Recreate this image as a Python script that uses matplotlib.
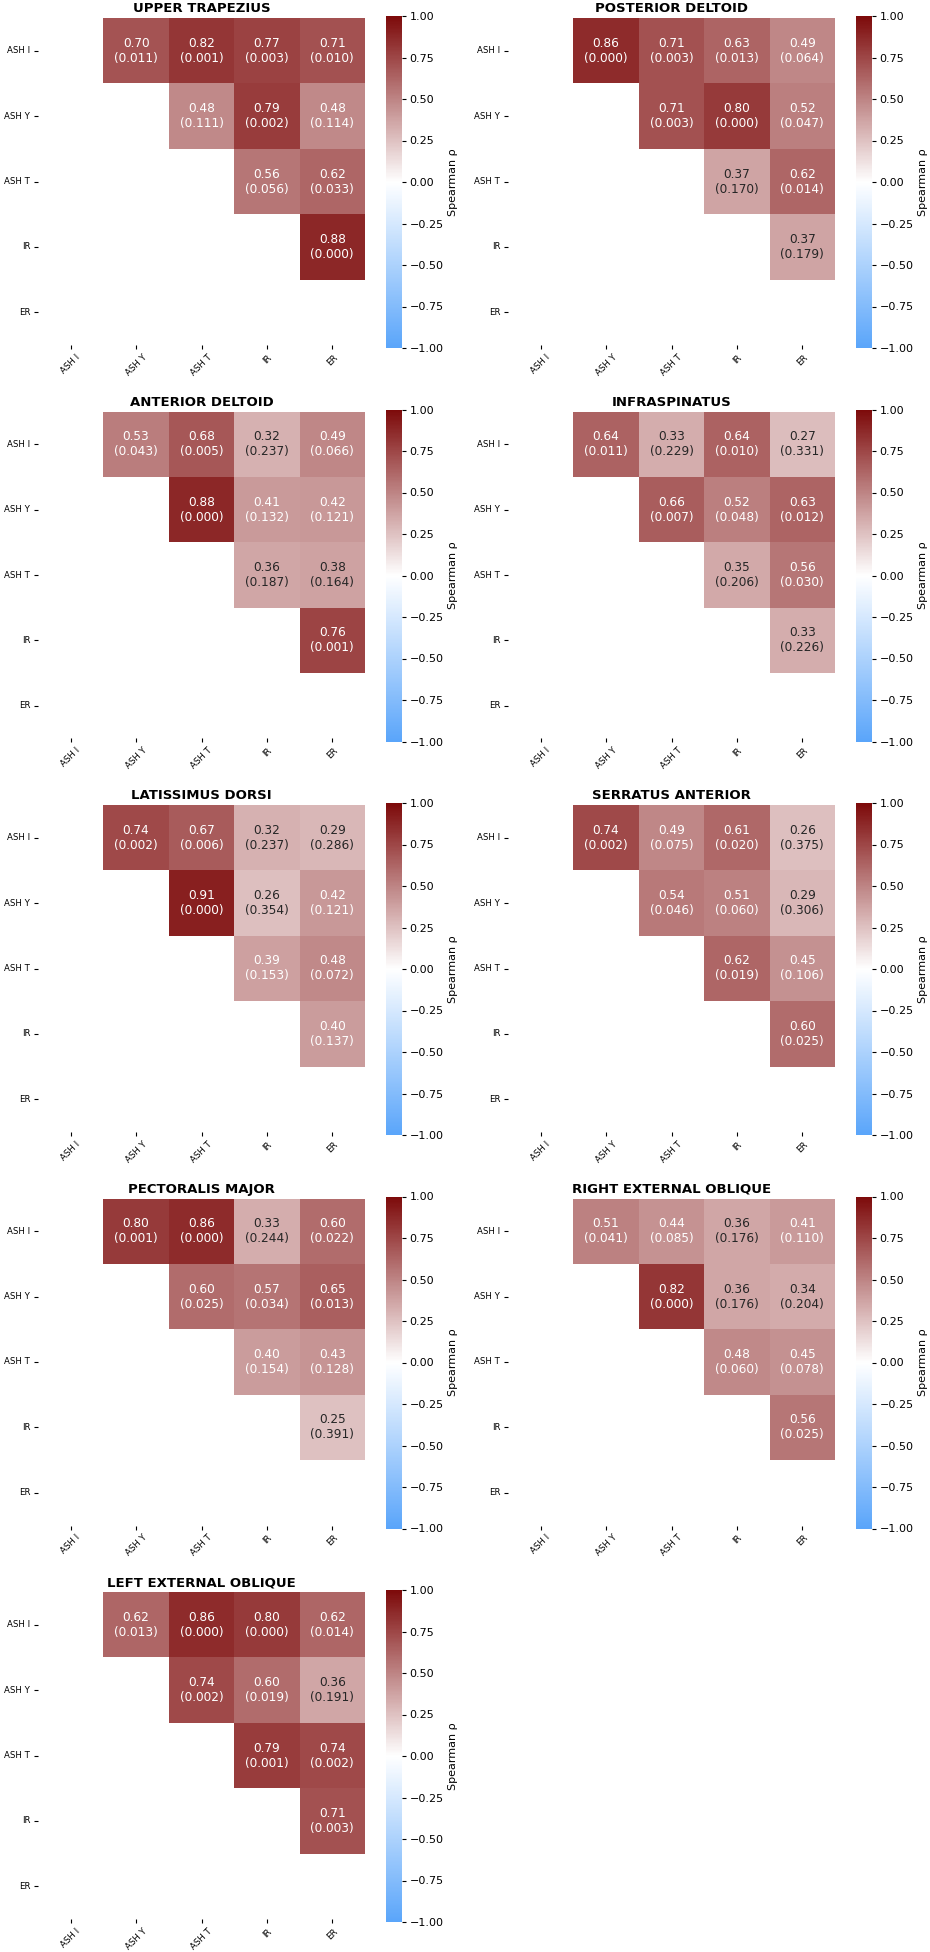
import numpy as np
import matplotlib
matplotlib.use("Agg")
import matplotlib.pyplot as plt
import seaborn as sns
from matplotlib.colors import LinearSegmentedColormap

# ------------------------------
# data (upper triangle, row by row)
# pairs: (I,Y) (I,T) (I,IR) (I,ER) (Y,T) (Y,IR) (Y,ER) (T,IR) (T,ER) (IR,ER)
# ------------------------------
labels = ["ASH I", "ASH Y", "ASH T", "IR", "ER"]

muscles = ["UPPER TRAPEZIUS", "POSTERIOR DELTOID", "ANTERIOR DELTOID",
           "INFRASPINATUS", "LATISSIMUS DORSI", "SERRATUS ANTERIOR",
           "PECTORALIS MAJOR", "RIGHT EXTERNAL OBLIQUE", "LEFT EXTERNAL OBLIQUE"]

rho_upper_trap = [0.70, 0.82, 0.77, 0.71, 0.48, 0.79, 0.48, 0.56, 0.62, 0.88]
p_upper_trap   = [0.011, 0.001, 0.003, 0.010, 0.111, 0.002, 0.114, 0.056, 0.033, 0.000]

rho_post_delt = [0.86, 0.71, 0.63, 0.49, 0.71, 0.80, 0.52, 0.37, 0.62, 0.37]
p_post_delt   = [0.000, 0.003, 0.013, 0.064, 0.003, 0.000, 0.047, 0.170, 0.014, 0.179]

rho_ant_delt = [0.53, 0.68, 0.32, 0.49, 0.88, 0.41, 0.42, 0.36, 0.38, 0.76]
p_ant_delt   = [0.043, 0.005, 0.237, 0.066, 0.000, 0.132, 0.121, 0.187, 0.164, 0.001]

rho_infra = [0.64, 0.33, 0.64, 0.27, 0.66, 0.52, 0.63, 0.35, 0.56, 0.33]
p_infra   = [0.011, 0.229, 0.010, 0.331, 0.007, 0.048, 0.012, 0.206, 0.030, 0.226]

rho_lat = [0.74, 0.67, 0.32, 0.29, 0.91, 0.26, 0.42, 0.39, 0.48, 0.40]
p_lat   = [0.002, 0.006, 0.237, 0.286, 0.000, 0.354, 0.121, 0.153, 0.072, 0.137]

rho_serr = [0.74, 0.49, 0.61, 0.26, 0.54, 0.51, 0.29, 0.62, 0.45, 0.60]
p_serr   = [0.002, 0.075, 0.020, 0.375, 0.046, 0.060, 0.306, 0.019, 0.106, 0.025]

rho_pec = [0.80, 0.86, 0.33, 0.60, 0.60, 0.57, 0.65, 0.40, 0.43, 0.25]
p_pec   = [0.001, 0.000, 0.244, 0.022, 0.025, 0.034, 0.013, 0.154, 0.128, 0.391]

rho_r_obl = [0.51, 0.44, 0.36, 0.41, 0.82, 0.36, 0.34, 0.48, 0.45, 0.56]
p_r_obl   = [0.041, 0.085, 0.176, 0.110, 0.000, 0.176, 0.204, 0.060, 0.078, 0.025]

rho_l_obl = [0.62, 0.86, 0.80, 0.62, 0.74, 0.60, 0.36, 0.79, 0.74, 0.71]
p_l_obl   = [0.013, 0.000, 0.000, 0.014, 0.002, 0.019, 0.191, 0.001, 0.002, 0.003]

all_rho = [rho_upper_trap, rho_post_delt, rho_ant_delt, rho_infra, rho_lat,
           rho_serr, rho_pec, rho_r_obl, rho_l_obl]
all_p = [p_upper_trap, p_post_delt, p_ant_delt, p_infra, p_lat,
         p_serr, p_pec, p_r_obl, p_l_obl]

cb_ticks = [-1.0, -0.75, -0.5, -0.25, 0.0, 0.25, 0.5, 0.75, 1.0]

# ------------------------------
# colormap / figure
# ------------------------------
cmap = LinearSegmentedColormap.from_list("blue_white_red", ["#5aa5fa", "#ffffff", "#7d0a0a"])

W, H = 930, 1952
fig = plt.figure(figsize=(W / 100, H / 100), dpi=100)

n = len(labels)
iu = np.triu_indices(n, k=1)
mask = np.tril(np.ones((n, n), dtype=bool))

for k, name in enumerate(muscles):
    r, c = divmod(k, 2)
    left = 38 + c * 470
    top = 18 + r * 393.5
    size = 327

    ax = fig.add_axes([left / W, 1 - (top + size) / H, size / W, size / H])
    cax = fig.add_axes([(left + 348) / W, 1 - (top - 2 + 332) / H, 16 / W, 332 / H])

    mat = np.zeros((n, n))
    mat[iu] = all_rho[k]
    pm = np.zeros((n, n))
    pm[iu] = all_p[k]
    annot = np.array([[f"{mat[i, j]:.2f}\n({pm[i, j]:.3f})" for j in range(n)] for i in range(n)])

    sns.heatmap(mat, mask=mask, cmap=cmap, vmin=-1, vmax=1, annot=annot, fmt="",
                annot_kws={"fontsize": 8.7}, ax=ax, cbar_ax=cax,
                xticklabels=labels, yticklabels=labels,
                cbar_kws={"ticks": cb_ticks})

    ax.set_title(name, fontsize=9.5, fontweight="bold", pad=4)
    ax.set_xticklabels(labels, rotation=45, ha="center", fontsize=6.2)
    ax.set_yticklabels(labels, rotation=0, fontsize=6.2)
    ax.tick_params(length=3, width=0.8, pad=2.5)

    cax.tick_params(labelsize=8, length=3, width=0.8, pad=2.5)
    cax.set_yticklabels([f"{t:.2f}".replace("-", "\u2212") for t in cb_ticks])
    cax.set_ylabel("Spearman ρ", fontsize=8, labelpad=3)

fig.savefig("out.png", dpi=100)
